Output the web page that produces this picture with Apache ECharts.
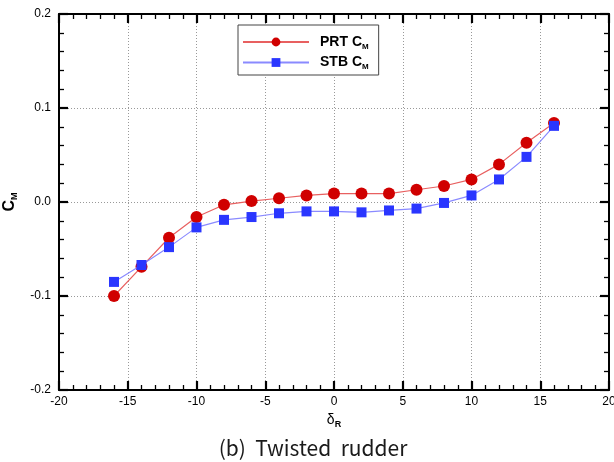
<!DOCTYPE html>
<html><head><meta charset="utf-8">
<script src="https://cdn.jsdelivr.net/npm/echarts@6/dist/echarts.min.js"></script>
<style>html,body{margin:0;padding:0;background:#fff}#c{width:614px;height:462px}</style>
</head><body><div id="c"></div>
<script>
const deltaR = [-16,-14,-12,-10,-8,-6,-4,-2,0,2,4,6,8,10,12,14,16];
const prtCM = [-0.100,-0.069,-0.038,-0.016,-0.003,0.001,0.004,0.007,0.009,0.009,0.009,0.013,0.017,0.024,0.040,0.063,0.084];
const stbCM = [-0.085,-0.067,-0.048,-0.027,-0.019,-0.016,-0.012,-0.010,-0.010,-0.011,-0.009,-0.007,-0.001,0.007,0.024,0.048,0.081];
const seriesNames = ['PRT', 'STB'];
const xTicks = [-20,20,5];
const yTicks = [-0.2,0.2,0.1];

const chart = echarts.init(document.getElementById('c'));
const font = 'Liberation Sans, Arial, sans-serif';
function axisBase(pos){
  return {
    type:'value',
    position:pos,
    axisLine:{show:true,onZero:false,lineStyle:{color:'#000',width:2}},
    axisTick:{show:true,inside:true,length:9,lineStyle:{color:'#000',width:2.2}},
    minorTick:{show:true,splitNumber:5,length:5,lineStyle:{color:'#000',width:1.3}},
    axisLabel:{show:false},
    splitLine:{show:false}
  };
}
const xMain = axisBase('bottom');
Object.assign(xMain,{min:xTicks[0],max:xTicks[1],interval:xTicks[2],
  splitLine:{show:true,lineStyle:{color:'#999',type:[1,2],width:1}},
  axisLabel:{show:true,color:'#000',fontFamily:font,fontSize:12,margin:6,showMinLabel:true,showMaxLabel:true},
  name:'{d|δ}{r|R}',nameLocation:'middle',nameGap:21,
  nameTextStyle:{rich:{d:{fontFamily:font,fontSize:14,color:'#000'},r:{fontFamily:font,fontSize:9,fontWeight:'bold',color:'#000',padding:[9,0,0,0]}}}});
const xTop = axisBase('top');
Object.assign(xTop,{min:xTicks[0],max:xTicks[1],interval:xTicks[2]});
const yMain = axisBase('left');
Object.assign(yMain,{min:yTicks[0],max:yTicks[1],interval:yTicks[2],
  splitLine:{show:true,lineStyle:{color:'#999',type:[1,2],width:1}},
  axisLabel:{show:true,color:'#000',fontFamily:font,fontSize:12,margin:8,formatter:v=>v.toFixed(1)},
  name:'{c|C}{m|M}',nameLocation:'middle',nameGap:24,nameRotate:90,
  nameTextStyle:{rich:{c:{fontFamily:font,fontSize:16,fontWeight:'bold',color:'#000'},m:{fontFamily:font,fontSize:9,fontWeight:'bold',color:'#000',padding:[10,0,0,0]}}}});
const yRight = axisBase('right');
Object.assign(yRight,{min:yTicks[0],max:yTicks[1],interval:yTicks[2]});

const option = {
  animation:false,
  backgroundColor:'#fff',
  grid:{left:59,right:5,top:14,bottom:72,containLabel:false,outerBoundsMode:'none'},
  legend:{
    data:['PRT','STB'],
    left:238, top:25, width:139, orient:'vertical',
    padding:[10,10,4,4], itemGap:5, itemWidth:66, itemHeight:11,
    borderColor:'#444', borderWidth:1, backgroundColor:'#fff',
    formatter:function(n){return '{b|'+n+' C}{s|M}';},
    textStyle:{rich:{b:{fontFamily:font,fontWeight:'bold',fontSize:14,color:'#000',padding:[0,0,0,6]},s:{fontFamily:font,fontWeight:'bold',fontSize:8,color:'#000',padding:[9,0,0,0]}}}
  },
  xAxis:[xMain,xTop],
  yAxis:[yMain,yRight],
  series:[
    {name:seriesNames[0],type:'line',data:deltaR.map((x,i)=>[x,prtCM[i]]),
      symbol:'circle',symbolSize:12,itemStyle:{color:'#d00000'},lineStyle:{color:'#e86060',width:1.2},z:3},
    {name:seriesNames[1],type:'line',data:deltaR.map((x,i)=>[x,stbCM[i]]),
      symbol:'rect',symbolSize:10,itemStyle:{color:'#2a36ff'},lineStyle:{color:'#8a8aff',width:1.2},z:4}
  ],
  graphic:[{type:'text',x:313,y:448,style:{text:'(b)  Twisted  rudder',font:'21px "Noto Sans CJK KR", sans-serif',fill:'#1a1a1a',align:'center',verticalAlign:'middle'}}]
};
chart.setOption(option);
</script></body></html>
